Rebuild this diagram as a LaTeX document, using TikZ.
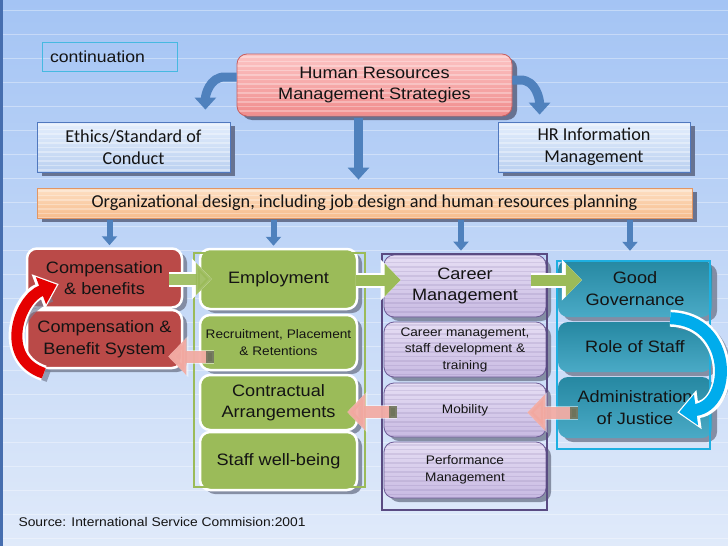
\documentclass[tikz,border=0pt]{standalone}
\usepackage{fontspec}
\setmainfont[FakeStretch=1.1]{Liberation Sans}
\newfontfamily\calfont{Carlito}
\usetikzlibrary{shadows,arrows.meta,calc}
\definecolor{bgtop}{RGB}{164,196,244}
\definecolor{bgbot}{RGB}{224,234,250}
\definecolor{edgeblue}{RGB}{70,110,175}
\definecolor{contline}{RGB}{70,185,225}
\definecolor{hrtop}{RGB}{252,196,196}
\definecolor{hrbot}{RGB}{240,140,140}
\definecolor{hrline}{RGB}{200,95,95}
\definecolor{ettop}{RGB}{228,238,252}
\definecolor{etbot}{RGB}{186,208,240}
\definecolor{etline}{RGB}{80,120,190}
\definecolor{ortop}{RGB}{253,224,196}
\definecolor{orbot}{RGB}{247,188,140}
\definecolor{orline}{RGB}{225,150,100}
\definecolor{shadowc}{RGB}{95,105,135}
\definecolor{colshadow}{RGB}{120,128,150}
\definecolor{redc}{RGB}{186,74,72}
\definecolor{greenc}{RGB}{155,187,89}
\definecolor{purtop}{RGB}{230,222,244}
\definecolor{purbot}{RGB}{200,186,226}
\definecolor{purline}{RGB}{110,92,150}
\definecolor{purframe}{RGB}{90,75,130}
\definecolor{tealtop}{RGB}{38,136,162}
\definecolor{tealbot}{RGB}{74,170,198}
\definecolor{tealframe}{RGB}{30,175,225}
\definecolor{arrblue}{RGB}{79,129,189}
\definecolor{arrcyan}{RGB}{0,172,236}
\definecolor{pinkc}{RGB}{242,168,160}
\definecolor{tailc}{RGB}{110,115,90}
\definecolor{txt}{RGB}{20,20,20}
\tikzset{
  shd/.style={drop shadow={shadow xshift=5pt,shadow yshift=-4pt,fill=shadowc,opacity=0.9}},
  cshd/.style={drop shadow={shadow xshift=5pt,shadow yshift=-4pt,fill=colshadow,opacity=0.85}},
  stripes/.style={path picture={\foreach \k in {0,...,16}{\draw[#1,line width=1.4pt] ($(path picture bounding box.north west)+(0,3+\k*4.5)$) -- ++(700,0);}}},
  f16/.style={font=\fontsize{16.5}{21.5}\selectfont},
  f12/.style={font=\fontsize{12.4}{16.5}\selectfont},
  contbox/.style={draw=contline,line width=0.9pt,minimum width=135pt,minimum height=29pt,inner xsep=8pt,text width=119pt,align=left,font=\fontsize{16}{18}\selectfont,text=txt},
  hrbox/.style={rounded corners=10pt,draw=hrline,line width=0.8pt,top color=hrtop,bottom color=hrbot,stripes={white,opacity=0.3},shd,align=center,f16,text=txt},
  etbox/.style={draw=etline,line width=0.8pt,top color=ettop,bottom color=etbot,stripes={white,opacity=0.35},shd,align=center,font=\calfont\fontsize{18.2}{22}\selectfont,text=txt},
  orbox/.style={draw=orline,line width=0.8pt,top color=ortop,bottom color=orbot,stripes={white,opacity=0.3},shd,align=center,font=\calfont\fontsize{18.2}{20}\selectfont,text=txt},
  colbox/.style={rounded corners=10pt,align=center,text=txt,cshd},
  redbox/.style={colbox,draw=white,line width=2.5pt,fill=redc},
  greenbox/.style={colbox,draw=white,line width=2.5pt,fill=greenc},
  purbox/.style={colbox,draw=purline,line width=0.8pt,top color=purtop,bottom color=purbot,stripes={purline,opacity=0.15}},
  tealbox/.style={colbox,draw=none,top color=tealtop,bottom color=tealbot},
  bigdown/.style={draw=arrblue,line width=9pt,-{Triangle[width=21pt,length=12pt]}},
  smalldown/.style={draw=arrblue,line width=6pt,-{Triangle[width=15pt,length=9pt]}},
  greenarr/.style={draw=greenc,line width=11pt,-{Triangle[width=32pt,length=16pt]},
    preaction={draw=white,line width=15pt,-{Triangle[width=40pt,length=20pt]}}},
  pinkarr/.style={draw=pinkc,opacity=0.9,line width=12pt,{Rectangle[length=8pt,width=12pt,color=tailc]}-{Triangle[width=36pt,length=18pt]},
    preaction={draw=white,opacity=0.5,line width=14pt,-{Triangle[width=40pt,length=20pt]}}},
}
\begin{document}
\begin{tikzpicture}[x=1pt,y=-1pt]
\useasboundingbox (0,0) rectangle (728,546);
\shade[top color=bgtop,bottom color=bgbot] (0,0) rectangle (728,546);
\foreach \yy in {10,34,...,546} \draw[white,opacity=0.35,line width=0.8pt] (0,\yy) -- (728,\yy);
\fill[edgeblue] (0,0) rectangle (3,546);

% top part
\node[contbox] (cont) at (109.5,56.5) {continuation};
\node[hrbox,minimum width=275pt,minimum height=62pt] (hrs) at (374.5,85) {Human Resources\\Management Strategies};
\node[etbox,minimum width=193pt,minimum height=50pt] (eth) at (133.5,147) {Ethics/Standard of\\Conduct};
\node[etbox,minimum width=192pt,minimum height=50pt] (hri) at (594,147) {HR Information\\Management};
\node[orbox,minimum width=655pt,minimum height=30pt] (org) at (364.5,203) {Organizational design, including job design and human resources planning};

% red column
\node[redbox,f16,minimum width=155pt,minimum height=59pt] (cb) at (104.5,278) {Compensation\\\& benefits};
\node[redbox,f16,minimum width=155pt,minimum height=58pt] (cbs) at (104.5,339) {Compensation \&\\Benefit System};

% green column
\node[greenbox,f16,minimum width=157pt,minimum height=60pt] (emp) at (278.5,279) {Employment};
\node[greenbox,f12,minimum width=157pt,minimum height=55pt] (rec) at (278.5,342.5) {Recruitment, Placement\\\& Retentions};
\node[greenbox,f16,minimum width=157pt,minimum height=55pt] (con) at (278.5,402.5) {Contractual\\Arrangements};
\node[greenbox,f16,minimum width=157pt,minimum height=58pt] (swb) at (278.5,461) {Staff well-being};
\draw[greenc,line width=2pt] (194,253) rectangle (365,487);

% purple column
\node[purbox,f16,minimum width=162pt,minimum height=62pt] (car) at (465,286) {Career\\Management};
\node[purbox,f12,minimum width=162pt,minimum height=55pt] (cmt) at (465,349.5) {Career management,\\staff development \&\\training};
\node[purbox,f12,minimum width=162pt,minimum height=54pt] (mob) at (465,410) {Mobility};
\node[purbox,f12,minimum width=162pt,minimum height=56pt] (pm) at (465,470) {Performance\\Management};
\draw[purframe,line width=2pt] (382,254) rectangle (547,510);

% teal column
\node[tealbox,f16,minimum width=154pt,minimum height=57pt] (gg) at (635,288.5) {Good\\Governance};
\node[tealbox,f16,minimum width=154pt,minimum height=50pt] (ros) at (635,347) {Role of Staff};
\node[tealbox,f16,minimum width=154pt,minimum height=61pt] (adj) at (635,407.5) {Administration\\of Justice};
\draw[tealframe,line width=1.5pt] (557,261) rectangle (710,449);

% blue arrows from the strategies box
\draw[bigdown] ([yshift=8pt]hrs.west) -- ++(-12,0) to[out=180,in=90] ($(eth.north east)+(-25,-12)$);
\draw[bigdown] ([yshift=5pt]hrs.east) -- ++(8,0) to[out=0,in=90] ($(hri.north west)+(42,-7)$);
\draw[bigdown] ($(hrs.south)+(-16,2)$) -- ($(org.north)+(-6,-8)$);

% small arrows into the columns
\draw[smalldown] ($(org.south -| cb.north)+(5,2)$) -- ($(cb.north)+(5,-2)$);
\draw[smalldown] ($(org.south -| emp.north)+(-5,2)$) -- ($(emp.north)+(-5,-2)$);
\draw[smalldown] ($(org.south -| car.north)+(-4,2)$) -- ($(car.north)+(-4,-4)$);
\draw[smalldown] ($(org.south -| gg.north)+(-5,2)$) -- ($(gg.north)+(-5,-9)$);

% green arrows
\draw[greenarr,opacity=0.9] ($(cb.east)+(-14,1)$) -- ($(cb.east -| emp.west)+(13,1)$);
\draw[greenarr] ($(emp.east)+(-2,1)$) -- ($(emp.east -| car.west)+(17,1)$);
\draw[greenarr] ($(car.east)+(-15,-6)$) -- ($(car.east -| gg.west)+(24,-6)$);

% pink arrows
\coordinate (p1) at ($(rec.west)+(15,14)$);
\draw[pinkarr] (p1) -- ($(p1 -| cbs.east)+(-15,0)$);
\coordinate (p2) at ($(mob.west)+(13,2)$);
\draw[pinkarr] (p2) -- ($(p2 -| con.east)+(-11,0)$);
\coordinate (p3) at ($(adj.west)+(20,5)$);
\draw[pinkarr] (p3) -- ($(p3 -| mob.east)+(-19,0)$);

% red curved arrow
\coordinate (rs) at ($(cbs.south west)+(18,4)$);
\coordinate (re) at ($(cb.west)+(33,6)$);
\draw[colshadow,opacity=0.7,line width=12pt] ($(rs)+(5,3)$) .. controls +(-45,-15) and +(-40,15) .. ($(re)+(-8,12)$);
\draw[white,line width=16pt,-{Triangle[width=36pt,length=22pt]}] (rs) .. controls +(-45,-15) and +(-40,15) .. (re);
\draw[red!90!black,line width=11pt,-{Triangle[width=28pt,length=17pt]},shorten >=2pt] (rs) .. controls +(-45,-15) and +(-40,15) .. (re);

% cyan curved arrow
\coordinate (cs) at ($(gg.south east)+(-42,1)$);
\coordinate (ce) at ($(adj.east)+(-35,5)$);
\draw[colshadow,opacity=0.7,line width=14pt] ($(cs)+(8,4)$) .. controls (738,326) and (738,409) .. ($(ce)+(12,0)$);
\draw[white,line width=17pt,-{Triangle[width=38pt,length=22pt]}] (cs) .. controls (733,320) and (733,405) .. (ce);
\draw[arrcyan,line width=12pt,-{Triangle[width=30pt,length=17pt]},shorten >=2pt] (cs) .. controls (733,320) and (733,405) .. (ce);

% source
\node[anchor=west,font=\fontsize{12.6}{15}\selectfont,text=txt] (src) at (15,522) {Source: International Service Commision:2001};
\end{tikzpicture}
\end{document}
